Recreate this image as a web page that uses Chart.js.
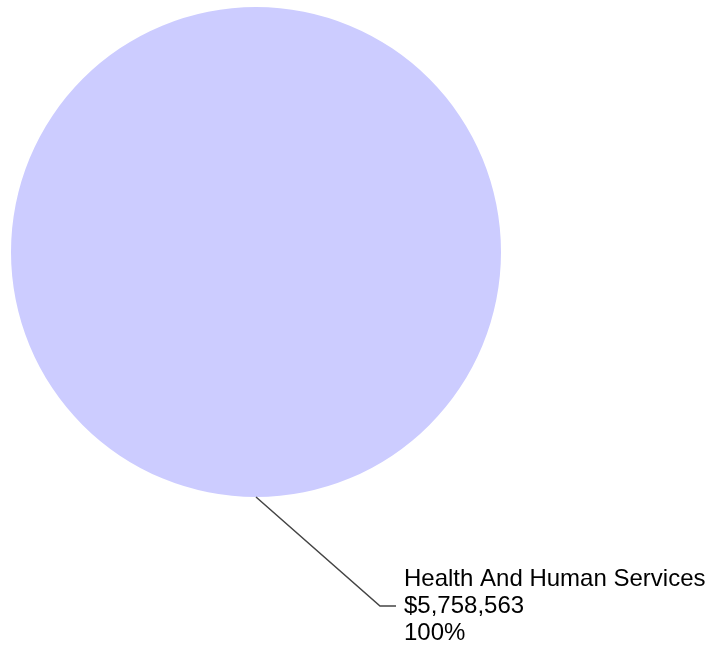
<!DOCTYPE html>
<html>
<head>
<meta charset="utf-8">
<script src="https://cdn.jsdelivr.net/npm/chart.js@4/dist/chart.umd.min.js"></script>
<style>
  html, body { margin: 0; padding: 0; background: #fff; }
  #wrap { width: 711px; height: 647px; }
</style>
</head>
<body>
<div id="wrap"><canvas id="myChart"></canvas></div>
<script>
'use strict';

var labels = ["Health And Human Services"];
var amounts = [5758563];
var colors = ["#ccccff"];

// leader line + label under the pie
var calloutPlugin = {
  id: 'callout',
  afterDatasetsDraw: function (chart) {
    var ctx = chart.ctx;
    var ds = chart.data.datasets[0];
    var total = 0;
    ds.data.forEach(function (v) { total += v; });
    var meta = chart.getDatasetMeta(0);
    meta.data.forEach(function (arc, i) {
      var mid = (arc.startAngle + arc.endAngle) / 2;
      var px = arc.x + Math.cos(mid) * arc.outerRadius;
      var py = arc.y + Math.sin(mid) * arc.outerRadius;
      var ex = px + 124;
      var ey = py + 109;
      ctx.save();
      ctx.strokeStyle = '#444';
      ctx.lineWidth = 1.5;
      ctx.beginPath();
      ctx.moveTo(px, py);
      ctx.lineTo(ex, ey);
      ctx.lineTo(ex + 16, ey);
      ctx.stroke();

      ctx.fillStyle = '#000';
      ctx.font = '24px "Liberation Sans", Arial, sans-serif';
      ctx.textAlign = 'left';
      ctx.textBaseline = 'middle';
      var tx = ex + 24;
      var pct = Math.round(ds.data[i] / total * 100) + '%';
      ctx.fillText(chart.data.labels[i], tx, ey - 27);
      ctx.fillText('$' + ds.data[i].toLocaleString('en-US'), tx, ey);
      ctx.fillText(pct, tx, ey + 27);
      ctx.restore();
    });
  }
};

new Chart(document.getElementById('myChart'), {
  type: 'pie',
  data: {
    labels: labels,
    datasets: [{
      data: amounts,
      backgroundColor: colors,
      borderWidth: 0
    }]
  },
  plugins: [calloutPlugin],
  options: {
    responsive: true,
    maintainAspectRatio: false,
    animation: false,
    layout: {
      padding: { left: 11, top: 7, right: 210, bottom: 150 }
    },
    plugins: {
      legend: { display: false },
      tooltip: { enabled: false }
    }
  }
});
</script>
</body>
</html>
